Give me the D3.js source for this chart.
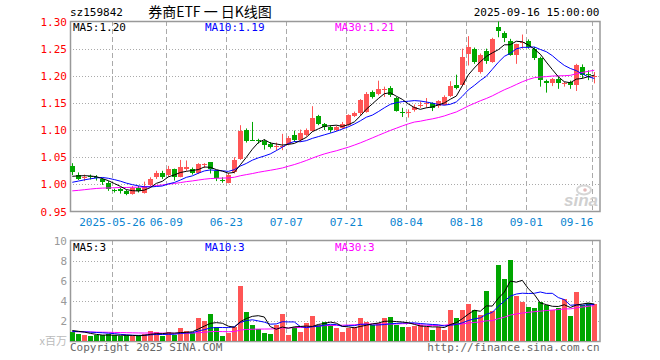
<!DOCTYPE html>
<html>
<head>
<meta charset="utf-8">
<script src="https://cdn.jsdelivr.net/npm/d3@7"></script>
<style>
body { margin: 0; background: #fff; }
text { font-family: 'DejaVu Sans Mono', monospace; }
</style>
</head>
<body>
<svg id="chart" width="660" height="360"></svg>
<script>
// daily bars, 2025-05-15 .. 2025-09-16
const open = [1.034,1.018,1.012,1.015,1.014,1.009,1.003,0.989,0.991,0.987,0.983,0.994,0.985,0.998,1.014,1.021,1.017,1.028,1.014,1.028,1.028,1.021,1.037,1.041,1.025,1.008,1.003,1.022,1.046,1.101,1.082,1.081,1.080,1.074,1.070,1.069,1.075,1.091,1.081,1.091,1.099,1.126,1.111,1.106,
  1.100,1.103,1.109,1.126,1.131,1.134,1.170,1.167,1.175,1.178,1.159,1.133,1.131,1.137,1.146,1.148,1.149,1.145,1.147,1.163,1.183,1.183,1.241,1.250,1.207,1.245,1.225,1.290,1.279,1.265,1.239,1.263,1.264,1.250,1.232,1.190,1.186,1.195,1.186,1.189,1.183,1.216,1.203,1.199];
const high = [1.039,1.022,1.018,1.018,1.017,1.012,1.006,0.992,0.994,0.990,0.997,0.997,1.005,1.013,1.025,1.025,1.034,1.029,1.045,1.044,1.031,1.039,1.039,1.041,1.026,1.013,1.021,1.050,1.109,1.103,1.115,1.084,1.083,1.078,1.077,1.093,1.089,1.099,1.101,1.103,1.144,1.128,1.113,1.109,
  1.108,1.115,1.129,1.134,1.157,1.170,1.173,1.191,1.180,1.181,1.161,1.141,1.138,1.147,1.153,1.159,1.151,1.155,1.164,1.190,1.202,1.250,1.273,1.252,1.241,1.250,1.270,1.300,1.282,1.268,1.259,1.276,1.267,1.253,1.235,1.193,1.196,1.198,1.189,1.191,1.222,1.221,1.210,1.207];
const low = [1.017,1.008,1.006,1.009,1.007,0.999,0.988,0.985,0.983,0.980,0.981,0.985,0.983,0.996,1.010,1.010,1.014,1.007,1.013,1.025,1.018,1.019,1.030,1.020,1.006,1.003,1.002,1.020,1.045,1.077,1.080,1.075,1.064,1.066,1.063,1.063,1.072,1.078,1.078,1.088,1.097,1.109,1.100,1.095,
  1.098,1.102,1.108,1.124,1.127,1.132,1.158,1.164,1.161,1.161,1.134,1.124,1.123,1.134,1.141,1.141,1.135,1.141,1.146,1.161,1.175,1.181,1.219,1.222,1.204,1.222,1.224,1.271,1.262,1.237,1.222,1.250,1.250,1.229,1.180,1.169,1.181,1.176,1.180,1.176,1.172,1.195,1.192,1.186];
const close = [1.022,1.010,1.014,1.013,1.012,1.004,0.991,0.988,0.987,0.982,0.994,0.988,0.996,1.010,1.021,1.013,1.029,1.014,1.032,1.032,1.021,1.037,1.038,1.029,1.011,1.007,1.018,1.045,1.099,1.080,1.081,1.080,1.072,1.068,1.071,1.071,1.086,1.081,1.095,1.100,1.123,1.112,1.105,1.100,
  1.105,1.112,1.127,1.131,1.155,1.167,1.161,1.176,1.176,1.164,1.135,1.132,1.134,1.143,1.147,1.149,1.140,1.153,1.161,1.181,1.178,1.235,1.253,1.225,1.238,1.227,1.268,1.282,1.270,1.239,1.259,1.263,1.253,1.232,1.192,1.186,1.195,1.186,1.186,1.183,1.219,1.202,1.202,1.200];
// volume, millions
const volume = [0.93,0.70,0.60,0.50,0.57,0.57,0.70,0.57,0.45,0.57,0.50,0.55,0.70,1.00,0.90,0.50,0.90,0.60,1.30,1.00,0.77,2.30,2.00,2.70,1.35,0.50,0.83,1.43,5.50,2.90,1.60,1.17,0.77,0.70,1.60,2.70,0.60,1.43,0.90,1.80,2.50,1.60,1.90,1.60,
  1.27,0.93,1.33,1.43,2.27,1.87,1.60,1.77,2.27,2.40,1.60,1.40,1.40,1.47,1.60,1.40,1.13,1.43,1.13,3.10,2.33,3.10,3.67,3.10,2.60,5.00,3.00,7.53,6.20,8.10,4.43,3.93,3.37,3.33,3.87,3.60,3.10,3.27,4.20,2.50,4.83,3.60,3.77,3.67];
// closes and volumes of the 29 sessions before the window (feed the moving averages)
const preClose = [0.982,0.979,0.977,0.980,0.983,0.981,0.978,0.976,0.979,0.982,0.984,0.981,0.978,0.977,0.980,0.983,0.982,0.979,0.980,0.982,0.988,0.991,0.994,0.996,0.995,1.006,1.012,1.016,1.018];
const preVolume = [0.95,0.88,0.92,1.02,0.86,0.90,0.97,0.85,0.93,0.89,0.96,0.91,0.87,0.94,0.98,0.90,0.86,0.93,0.95,0.92,0.82,0.86,0.80,0.91,0.86,1.12,0.98,1.15,1.07];

const tickIndex = [7, 16, 26, 36, 46, 56, 66, 76, 87];
const tickLabels = ['2025-05-26', '06-09', '06-23', '07-07', '07-21', '08-04', '08-18', '09-01', '09-16'];
const priceTicks = [1.30, 1.25, 1.20, 1.15, 1.10, 1.05, 1.00, 0.95];
const volumeTicks = [10, 8, 6, 4, 2];

const colorUp = '#ff5555';
const colorDown = '#00a600';
const colorGrid = '#aaaaaa';
const colorFrame = '#999999';
const maColors = {5: '#000000', 10: '#0000ff', 30: '#ff00ff'};

const n = close.length;
const left = 70, right = 599.5;

const x = d3.scaleLinear().domain([0, n - 1]).range([72.3, 594.3]);
const yP = d3.scaleLinear().domain([0.95, 1.30]).range([211.5, 21.5]);
const yV = d3.scaleLinear().domain([0, 10]).range([341, 240.5]);

const movingAverage = (series, pre, len) => {
    const all = pre.concat(series);
    return series.map((_, i) => {
        const end = pre.length + i + 1;
        return d3.mean(all.slice(end - len, end));
    });
};

// sina cuts the legend values instead of rounding them
const cut = (v, digits) => {
    const f = Math.pow(10, digits);
    return (Math.floor(v * f + 1e-6) / f).toFixed(digits);
};

const svg = d3.select('#chart');
svg.append('rect').attr('width', 660).attr('height', 360).attr('fill', '#fff');

// header
svg.append('text').attr('x', left).attr('y', 16).attr('font-size', 11).text('sz159842');
svg.append('text').attr('x', 210).attr('y', 17).attr('text-anchor', 'middle')
    .attr('font-size', 14).style('font-family', "'Noto Sans CJK SC', sans-serif")
    .text('券商ETF 一 日K线图');
svg.append('text').attr('x', right).attr('y', 16).attr('text-anchor', 'end')
    .attr('font-size', 11).text('2025-09-16 15:00:00');

const panel = (top, bottom, yTicks, yScale) => {
    const g = svg.append('g');
    g.selectAll('line.h').data(yTicks).enter().append('line')
        .attr('x1', left).attr('x2', right)
        .attr('y1', d => Math.round(yScale(d)) + 0.5).attr('y2', d => Math.round(yScale(d)) + 0.5)
        .attr('stroke', colorGrid).attr('stroke-dasharray', '1,2');
    g.selectAll('line.v').data(tickIndex).enter().append('line')
        .attr('x1', d => Math.round(x(d) - 2) + 0.5).attr('x2', d => Math.round(x(d) - 2) + 0.5)
        .attr('y1', top).attr('y2', bottom)
        .attr('stroke', colorGrid).attr('stroke-dasharray', '5,3');
    g.append('rect').attr('x', left + 0.5).attr('y', top + 0.5)
        .attr('width', right - left).attr('height', bottom - top)
        .attr('fill', 'none').attr('stroke', colorFrame).attr('stroke-width', 1.5);
    return g;
};

// price panel
panel(21, 211, priceTicks.slice(1, -1), yP);

svg.selectAll('text.py').data(priceTicks).enter().append('text')
    .attr('x', 67).attr('y', d => yP(d) + 4).attr('text-anchor', 'end')
    .attr('font-size', 11).attr('fill', '#ff0000')
    .text(d => d.toFixed(2));

svg.selectAll('text.dt').data(tickIndex).enter().append('text')
    .attr('x', (d, i) => i === tickIndex.length - 1 ? x(d) - 1 : x(d) - 2).attr('y', 226)
    .attr('text-anchor', (d, i) => i === tickIndex.length - 1 ? 'end' : 'middle')
    .attr('font-size', 11).attr('fill', '#0a84d0')
    .text((d, i) => tickLabels[i]);

// sina mark
const logo = svg.append('g').attr('fill', 'none').attr('stroke', '#d6d6d6');
logo.append('ellipse').attr('cx', 584).attr('cy', 190).attr('rx', 7).attr('ry', 4.5).attr('stroke-width', 2);
logo.append('circle').attr('cx', 585).attr('cy', 190).attr('r', 1.8).attr('fill', '#e3b8b8').attr('stroke', 'none');
svg.append('text').attr('x', 598).attr('y', 206).attr('text-anchor', 'end')
    .attr('font-size', 17).attr('font-weight', 'bold').attr('font-style', 'italic')
    .style('font-family', 'Arial, sans-serif').attr('fill', '#d0d0d0').text('sina');

const candles = svg.append('g').selectAll('g').data(close).enter().append('g');
candles.append('line')
    .attr('x1', (d, i) => Math.round(x(i)) + 0.5).attr('x2', (d, i) => Math.round(x(i)) + 0.5)
    .attr('y1', (d, i) => yP(high[i])).attr('y2', (d, i) => yP(low[i]))
    .attr('stroke', (d, i) => d >= open[i] ? colorUp : colorDown);
candles.append('rect')
    .attr('x', (d, i) => Math.round(x(i)) - 2)
    .attr('y', (d, i) => yP(Math.max(d, open[i])))
    .attr('width', 5)
    .attr('height', (d, i) => Math.max(1, Math.abs(yP(d) - yP(open[i]))))
    .attr('fill', (d, i) => d >= open[i] ? colorUp : colorDown)
    .attr('shape-rendering', 'crispEdges');

const line = scale => d3.line().x((d, i) => x(i)).y(d => scale(d));

[30, 10, 5].forEach(len => {
    svg.append('path').datum(movingAverage(close, preClose, len))
        .attr('d', line(yP)).attr('fill', 'none')
        .attr('stroke', maColors[len]).attr('stroke-width', 1);
});

const lastMa = len => movingAverage(close, preClose, len)[n - 1];
svg.append('text').attr('x', 73).attr('y', 31).attr('font-size', 11).attr('fill', maColors[5])
    .text('MA5:' + cut(lastMa(5), 2));
svg.append('text').attr('x', 205).attr('y', 31).attr('font-size', 11).attr('fill', maColors[10])
    .text('MA10:' + cut(lastMa(10), 2));
svg.append('text').attr('x', 335).attr('y', 31).attr('font-size', 11).attr('fill', maColors[30])
    .text('MA30:' + cut(lastMa(30), 2));

// volume panel
panel(240, 341, volumeTicks.slice(1), yV);

svg.selectAll('text.vy').data(volumeTicks).enter().append('text')
    .attr('x', 67).attr('y', d => yV(d) + 4).attr('text-anchor', 'end')
    .attr('font-size', 11).attr('fill', '#999')
    .text(d => d);
svg.append('text').attr('x', 67).attr('y', 345).attr('text-anchor', 'end')
    .attr('font-size', 11).attr('fill', '#bbb')
    .style('font-family', "'Noto Sans CJK SC', sans-serif").text('x百万');

svg.append('g').selectAll('rect').data(volume).enter().append('rect')
    .attr('x', (d, i) => Math.round(x(i)) - 2)
    .attr('y', d => yV(d))
    .attr('width', 5)
    .attr('height', d => yV(0) - yV(d))
    .attr('fill', (d, i) => close[i] >= open[i] ? colorUp : colorDown)
    .attr('shape-rendering', 'crispEdges');

[30, 10, 5].forEach(len => {
    svg.append('path').datum(movingAverage(volume, preVolume, len))
        .attr('d', line(yV)).attr('fill', 'none')
        .attr('stroke', maColors[len]).attr('stroke-width', 1);
});

const lastVol = len => cut(movingAverage(volume, preVolume, len)[n - 1], 0);
svg.append('text').attr('x', 73).attr('y', 251).attr('font-size', 11).attr('fill', maColors[5])
    .text('MA5:' + lastVol(5));
svg.append('text').attr('x', 205).attr('y', 251).attr('font-size', 11).attr('fill', maColors[10])
    .text('MA10:' + lastVol(10));
svg.append('text').attr('x', 335).attr('y', 251).attr('font-size', 11).attr('fill', maColors[30])
    .text('MA30:' + lastVol(30));

// footer
svg.append('text').attr('x', left).attr('y', 351).attr('font-size', 11).attr('fill', '#666')
    .text('Copyright 2025 SINA.COM');
svg.append('text').attr('x', right).attr('y', 351).attr('text-anchor', 'end')
    .attr('font-size', 11).attr('fill', '#666').text('http://finance.sina.com.cn');
</script>
</body>
</html>
